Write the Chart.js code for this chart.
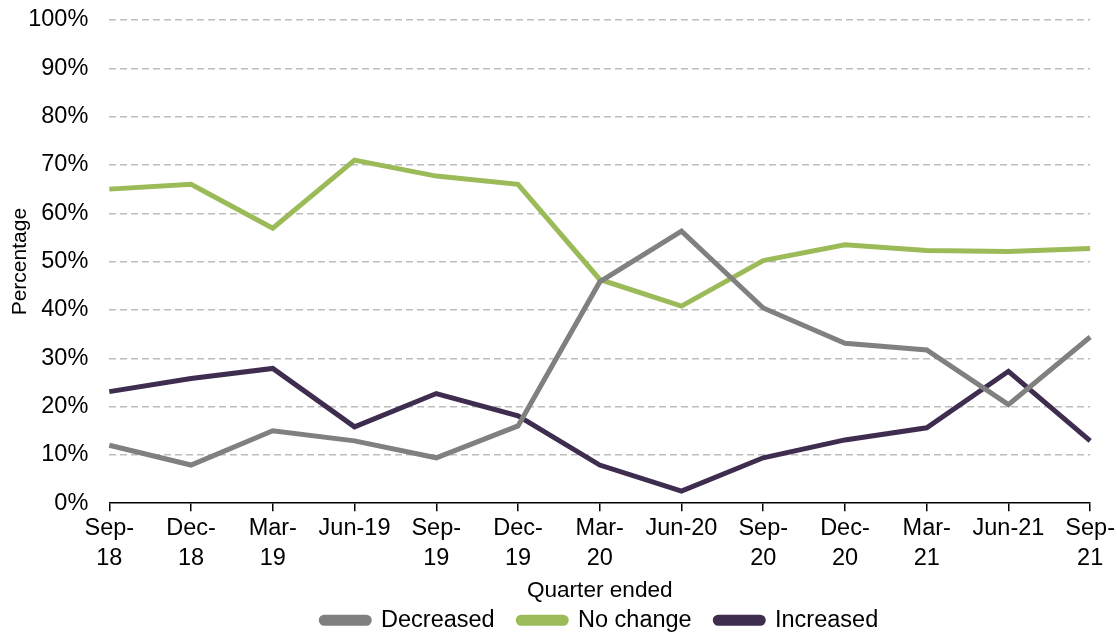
<!DOCTYPE html>
<html>
<head>
<meta charset="utf-8">
<script src="https://cdn.jsdelivr.net/npm/chart.js"></script>
<style>
  html, body { margin: 0; padding: 0; background: #fff; }
  #wrap { width: 1117px; height: 634px; }
</style>
</head>
<body>
<div id="wrap"><canvas id="grafico"></canvas></div>
<script>
// Trimestres (etiquetas en dos líneas como en el eje)
const trimestres = [
  ['Sep-', '18'], ['Dec-', '18'], ['Mar-', '19'], 'Jun-19', ['Sep-', '19'], ['Dec-', '19'],
  ['Mar-', '20'], 'Jun-20', ['Sep-', '20'], ['Dec-', '20'], ['Mar-', '21'], 'Jun-21', ['Sep-', '21']
];

// Porcentajes por serie
const disminuyo = [12, 7.9, 15, 12.9, 9.4, 16, 45.8, 56.3, 40.4, 33.1, 31.7, 20.4, 34.4];
const sinCambio = [65, 66, 56.9, 71, 67.7, 66, 46.3, 40.8, 50.2, 53.5, 52.3, 52.1, 52.7];
const aumento = [23.1, 25.8, 27.9, 15.8, 22.7, 18.1, 7.9, 2.5, 9.4, 13.1, 15.6, 27.3, 12.9];

const fuente = 'Arial, "Liberation Sans", sans-serif';

const serie = (label, data, color) => ({
    label: label,
    data: data,
    borderColor: color,
    backgroundColor: color,
    borderWidth: 5,
    pointRadius: 0,
    tension: 0
});

// Leyenda con más separación entre elementos
const generarEtiquetas = (chart) => {
    const items = Chart.defaults.plugins.legend.labels.generateLabels(chart);
    return items.map((it, i) => {
        if (i < items.length - 1) it.text = it.text + '   ';
        return it;
    });
};

// Quita espacio sobrante bajo la leyenda
const ajusteLeyenda = {
    id: 'ajusteLeyenda',
    beforeInit(chart) {
        const fitOriginal = chart.legend.fit;
        chart.legend.fit = function () {
            fitOriginal.call(this);
            this.height -= 8;
        };
    }
};

new Chart(document.getElementById('grafico').getContext('2d'), {
    type: 'line',
    data: {
        labels: trimestres,
        datasets: [
            serie('Decreased', disminuyo, '#808080'),
            serie('No change', sinCambio, '#9BBB59'),
            serie('Increased', aumento, '#3F2D4F')
        ]
    },
    plugins: [ajusteLeyenda],
    options: {
        responsive: true,
        maintainAspectRatio: false,
        animation: false,
        layout: { padding: { top: 20, right: 0, left: 0, bottom: 0 } },
        plugins: {
            legend: {
                position: 'bottom',
                fullSize: false,
                labels: {
                    color: '#000',
                    font: { family: fuente, size: 23.5 },
                    boxWidth: 48,
                    boxHeight: 6,
                    padding: 4,
                    useBorderRadius: true,
                    borderRadius: 3,
                    generateLabels: generarEtiquetas
                }
            },
            tooltip: { enabled: false }
        },
        scales: {
            x: {
                offset: false,
                grid: {
                    drawOnChartArea: false,
                    drawTicks: true,
                    tickLength: 8,
                    tickColor: '#000',
                    lineWidth: 1.5
                },
                border: { display: true, color: '#000', width: 1.5 },
                ticks: {
                    color: '#000',
                    font: { family: fuente, size: 23.5, lineHeight: 1.28 },
                    maxRotation: 0,
                    autoSkip: false,
                    padding: 2
                },
                title: {
                    display: true,
                    text: 'Quarter ended',
                    color: '#000',
                    font: { family: fuente, size: 22.6 },
                    padding: { top: 2, bottom: 0 }
                }
            },
            y: {
                min: 0,
                max: 100,
                grid: {
                    drawTicks: true,
                    tickLength: 18,
                    tickColor: 'rgba(0,0,0,0)',
                    color: (ctx) => ctx.tick && ctx.tick.value === 0 ? 'rgba(0,0,0,0)' : '#BDBDBD',
                    lineWidth: 1.5
                },
                border: { display: false, dash: [7, 4] },
                ticks: {
                    stepSize: 10,
                    color: '#000',
                    font: { family: fuente, size: 23.5 },
                    padding: 3,
                    callback: (v) => v + '%'
                },
                title: {
                    display: true,
                    text: 'Percentage',
                    color: '#000',
                    font: { family: fuente, size: 21 },
                    padding: { top: 8, bottom: -8 }
                }
            }
        }
    }
});
</script>
</body>
</html>
